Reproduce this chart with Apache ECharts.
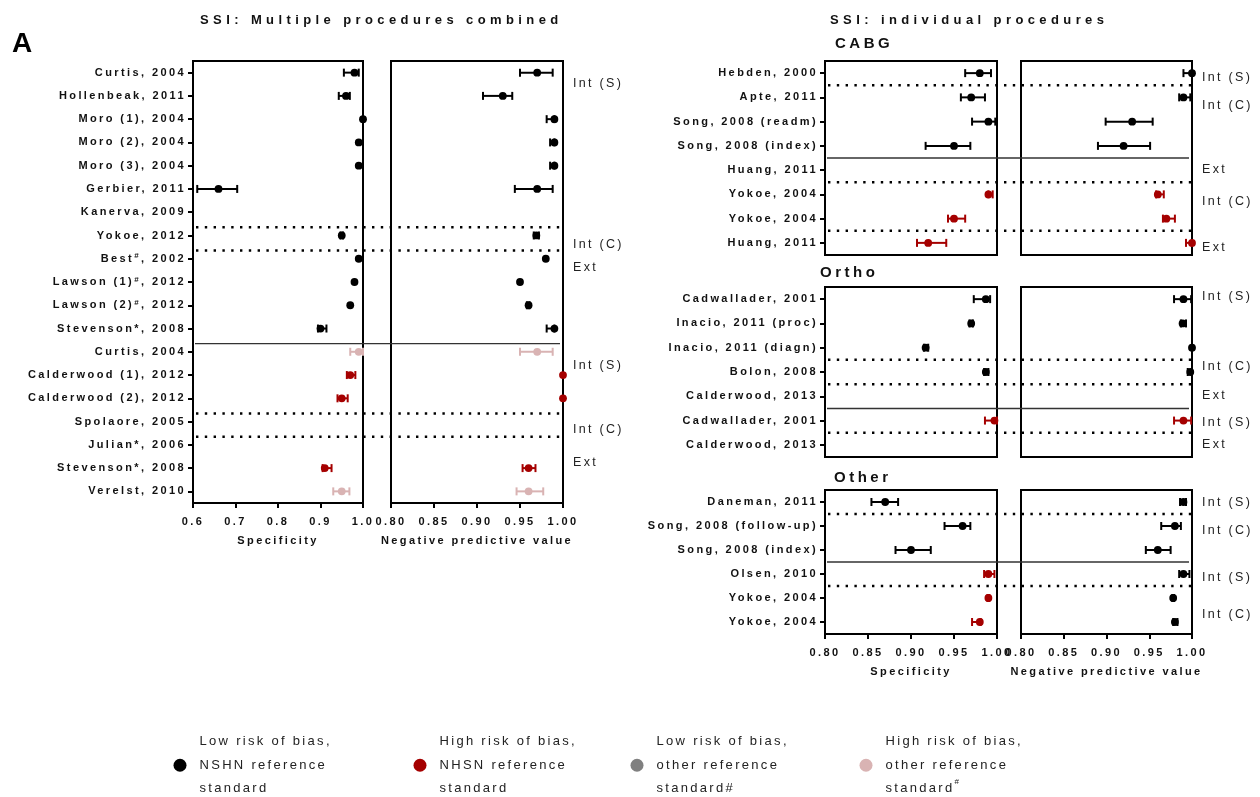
<!DOCTYPE html>
<html><head><meta charset="utf-8">
<script src="https://cdn.jsdelivr.net/npm/echarts@6/dist/echarts.min.js"></script>
<style>html,body{margin:0;padding:0;background:#fff}#c{width:1260px;height:797px}</style>
</head><body><div id="c"></div>
<script>
// ---------------- DATA ----------------
// risk codes: L = low risk / NHSN (black), H = high risk / NHSN (red), G = low risk / other (grey), P = high risk / other (pink)
const multiLabels = ['Curtis, 2004','Hollenbeak, 2011','Moro (1), 2004','Moro (2), 2004','Moro (3), 2004','Gerbier, 2011','Kanerva, 2009','Yokoe, 2012','Best#, 2002','Lawson (1)#, 2012','Lawson (2)#, 2012','Stevenson*, 2008','Curtis, 2004','Calderwood (1), 2012','Calderwood (2), 2012','Spolaore, 2005','Julian*, 2006','Stevenson*, 2008','Verelst, 2010'];
const multiRisk   = ['L','L','L','L','L','L','L','L','L','L','L','L','P','H','H','H','H','H','P'];
const multiSpec   = [0.98,0.96,1.00,0.99,0.99,0.66,null,0.95,0.99,0.98,0.97,0.90,0.99,0.97,0.95,null,null,0.91,0.95];
const multiSpecLo = [0.955,0.943,1.00,0.99,0.99,0.61,null,0.947,0.99,0.98,0.97,0.894,0.97,0.962,0.94,null,null,0.905,0.93];
const multiSpecHi = [0.99,0.969,1.00,0.99,0.99,0.704,null,0.953,0.99,0.98,0.97,0.914,1.00,0.982,0.964,null,null,0.926,0.968];
const multiNpv    = [0.97,0.93,0.99,0.99,0.99,0.97,null,0.969,0.98,0.95,0.96,0.99,0.97,1.00,1.00,null,null,0.96,0.96];
const multiNpvLo  = [0.95,0.907,0.981,0.985,0.985,0.944,null,0.966,0.98,0.95,0.958,0.981,0.95,1.00,1.00,null,null,0.953,0.946];
const multiNpvHi  = [0.988,0.941,0.99,0.99,0.99,0.988,null,0.972,0.98,0.95,0.961,0.99,0.988,1.00,1.00,null,null,0.968,0.977];
const multiGroups = [['Int (S)',0.45],['Int (C)',7.41],['Ext',8.4],['Int (S)',12.57],['Int (C)',15.36],['Ext',16.74]];
const multiDividers = [[6,'dot'],[7,'dot'],[11,'solid'],[14,'dot'],[15,'dot']];

const cabgLabels = ['Hebden, 2000','Apte, 2011','Song, 2008 (readm)','Song, 2008 (index)','Huang, 2011','Yokoe, 2004','Yokoe, 2004','Huang, 2011'];
const cabgRisk   = ['L','L','L','L','H','H','H','H'];
const cabgSpec   = [0.98,0.97,0.99,0.95,null,0.99,0.95,0.92];
const cabgSpecLo = [0.963,0.958,0.971,0.917,null,0.99,0.943,0.907];
const cabgSpecHi = [0.993,0.986,0.998,0.969,null,0.995,0.963,0.941];
const cabgNpv    = [1.00,0.99,0.93,0.92,null,0.96,0.97,1.00];
const cabgNpvLo  = [0.99,0.985,0.899,0.89,null,0.958,0.966,0.993];
const cabgNpvHi  = [1.00,0.998,0.954,0.951,null,0.967,0.98,1.00];
const cabgGroups = [['Int (S)',0.2],['Int (C)',1.35],['Ext',3.98],['Int (C)',5.3],['Ext',7.19]];
const cabgDividers = [[0,'dot'],[3,'solid'],[4,'dot'],[6,'dot']];

const orthoLabels = ['Cadwallader, 2001','Inacio, 2011 (proc)','Inacio, 2011 (diagn)','Bolon, 2008','Calderwood, 2013','Cadwallader, 2001','Calderwood, 2013'];
const orthoRisk   = ['L','L','L','L','L','H','H'];
const orthoSpec   = [0.987,0.97,0.917,0.987,null,0.997,null];
const orthoSpecLo = [0.973,0.968,0.915,0.985,null,0.986,null];
const orthoSpecHi = [0.992,0.972,0.92,0.99,null,1.00,null];
const orthoNpv    = [0.99,0.989,1.00,0.998,null,0.99,null];
const orthoNpvLo  = [0.979,0.987,1.00,0.995,null,0.979,null];
const orthoNpvHi  = [0.999,0.993,1.00,1.00,null,0.999,null];
const orthoGroups = [['Int (S)',-0.09],['Int (C)',2.79],['Ext',3.95],['Int (S)',5.1],['Ext',6.0]];
const orthoDividers = [[2,'dot'],[3,'dot'],[4,'solid'],[5,'dot']];

const otherLabels  = ['Daneman, 2011','Song, 2008 (follow-up)','Song, 2008 (index)','Olsen, 2010','Yokoe, 2004','Yokoe, 2004'];
const otherSpecRisk = ['L','L','L','H','H','H'];
const otherNpvRisk  = ['L','L','L','L','L','L'];
const otherSpec   = [0.87,0.96,0.90,0.99,0.99,0.98];
const otherSpecLo = [0.854,0.939,0.882,0.985,0.989,0.971];
const otherSpecHi = [0.885,0.969,0.923,0.997,0.991,0.981];
const otherNpv    = [0.99,0.98,0.96,0.99,0.978,0.98];
const otherNpvLo  = [0.986,0.964,0.946,0.985,0.977,0.978];
const otherNpvHi  = [0.993,0.987,0.975,0.997,0.979,0.983];
const otherGroups = [['Int (S)',0.04],['Int (C)',1.17],['Int (S)',3.13],['Int (C)',4.71]];
const otherDividers = [[0,'dot'],[2,'solid'],[3,'dot']];

const legendKeys  = ['L','H','G','P'];
const legendTexts = ['Low risk of bias,\nNSHN reference\nstandard','High risk of bias,\nNHSN reference\nstandard','Low risk of bias,\nother reference\nstandard#','High risk of bias,\nother reference\nstandard{sup|#}'];
const specTicks = {min:0.6, max:1.0, interval:0.1};
const npvTicks  = {min:0.8, max:1.0, interval:0.05};
const specTicks2 = {min:0.8, max:1.0, interval:0.05};

// ---------------- STYLE / LAYOUT ----------------
const FONT = '"Liberation Sans", Arial, sans-serif';
const COLORS = {L:'#000000', H:'#a50000', G:'#808080', P:'#d9b3b3'};
(function(){
  const P = CanvasRenderingContext2D.prototype;
  function sp(font){
    const m = /(\d+(?:\.\d+)?)px/.exec(font||''); const s = m ? parseFloat(m[1]) : 12;
    const b = /bold|[6-9]00/.test(font||'');
    if (s >= 20) return 0;
    if (b && s >= 14) return 3.5;
    if (b && s >= 12.5) return 4.4;
    if (b) return 2.4;
    return 2.3;
  }
  ['fillText','strokeText','measureText'].forEach(function(fn){
    const o = P[fn];
    P[fn] = function(){ try { this.letterSpacing = sp(this.font) + 'px'; } catch(e){} return o.apply(this, arguments); };
  });
})();

const panels = [
  {labels:multiLabels, spec:[multiSpec,multiSpecLo,multiSpecHi,multiRisk], npv:[multiNpv,multiNpvLo,multiNpvHi,multiRisk],
   groups:multiGroups, dividers:multiDividers, s:{left:193,top:61,width:170,height:442}, n:{left:391,top:61,width:172,height:442},
   sx:specTicks, sDec:1, axes:true, divOff:3.5},
  {labels:cabgLabels, spec:[cabgSpec,cabgSpecLo,cabgSpecHi,cabgRisk], npv:[cabgNpv,cabgNpvLo,cabgNpvHi,cabgRisk],
   groups:cabgGroups, dividers:cabgDividers, s:{left:825,top:61,width:172,height:194}, n:{left:1021,top:61,width:171,height:194},
   sx:specTicks2, sDec:2, axes:false, divOff:0},
  {labels:orthoLabels, spec:[orthoSpec,orthoSpecLo,orthoSpecHi,orthoRisk], npv:[orthoNpv,orthoNpvLo,orthoNpvHi,orthoRisk],
   groups:orthoGroups, dividers:orthoDividers, s:{left:825,top:287,width:172,height:170}, n:{left:1021,top:287,width:171,height:170},
   sx:specTicks2, sDec:2, axes:false, divOff:0},
  {labels:otherLabels, spec:[otherSpec,otherSpecLo,otherSpecHi,otherSpecRisk], npv:[otherNpv,otherNpvLo,otherNpvHi,otherNpvRisk],
   groups:otherGroups, dividers:otherDividers, s:{left:825,top:490,width:172,height:144}, n:{left:1021,top:490,width:171,height:144},
   sx:specTicks2, sDec:2, axes:true, divOff:0}
];

function renderCI(params, api){
  const row = api.value(1);
  const p = api.coord([api.value(0), row]);
  const a = api.coord([api.value(2), row]);
  const b = api.coord([api.value(3), row]);
  const color = api.visual('color');
  const cap = 4, y = p[1];
  const ls = {stroke:color, lineWidth:2};
  const ch = [];
  if (b[0] - a[0] > 0.5) {
    ch.push({type:'line', shape:{x1:a[0],y1:y,x2:b[0],y2:y}, style:ls});
    ch.push({type:'line', shape:{x1:a[0],y1:y-cap,x2:a[0],y2:y+cap}, style:ls});
    ch.push({type:'line', shape:{x1:b[0],y1:y-cap,x2:b[0],y2:y+cap}, style:ls});
  }
  ch.push({type:'circle', shape:{cx:p[0],cy:y,r:3.9}, style:{fill:color}});
  return {type:'group', children:ch};
}
function toData(arr){
  const [v, lo, hi, risk] = arr; const out = [];
  v.forEach(function(x,i){ if (x != null) out.push({value:[x,i,lo[i],hi[i]], itemStyle:{color:COLORS[risk[i]]}}); });
  return out;
}
const labelFont = {fontFamily:FONT, fontWeight:'bold', fontSize:11, color:'#111'};
function supFmt(v){ return v.indexOf('#') >= 0 ? v.replace('#','{sup|#}') : v; }

const grids = [], xAxes = [], yAxes = [], series = [], graphics = [];
panels.forEach(function(pn){
  [['s',pn.sx,pn.sDec,'Specificity',pn.spec],['n',npvTicks,2,'Negative predictive value',pn.npv]].forEach(function(d){
    const key = d[0], g = pn[key], gi = grids.length;
    grids.push({left:g.left, top:g.top, width:g.width, height:g.height, show:true, borderColor:'#000', borderWidth:2, containLabel:false});
    xAxes.push({type:'value', gridIndex:gi, min:d[1].min, max:d[1].max, interval:d[1].interval,
      axisLine:{show:true, onZero:false, lineStyle:{color:'#000', width:2}},
      axisTick:{show:pn.axes, length:5, lineStyle:{color:'#000', width:2}},
      axisLabel:Object.assign({show:pn.axes, margin:12, formatter:function(v){return v.toFixed(d[2]);}}, labelFont),
      splitLine:{show:false},
      name: pn.axes ? d[3] : '', nameLocation:'middle', nameGap:31,
      nameTextStyle:labelFont});
    const isS = key === 's';
    yAxes.push({type:'category', gridIndex:gi, data:pn.labels, inverse:true,
      axisLine:{show:true, lineStyle:{color:'#000', width:2}},
      axisTick:{show:isS, alignWithLabel:true, length:5, lineStyle:{color:'#000', width:2}},
      axisLabel:Object.assign({show:isS, margin:7, formatter:supFmt,
        rich:{sup:{fontFamily:FONT, fontWeight:'bold', fontSize:8, color:'#111', verticalAlign:'top', padding:[0,0,5,0]}}}, labelFont),
      splitLine:{show:false}});
    series.push({type:'custom', xAxisIndex:gi, yAxisIndex:gi, renderItem:renderCI, clip:false, z:5,
      encode:{x:[0,2,3], y:1}, data:toData(d[4])});
  });
  const rowH = pn.s.height / pn.labels.length;
  const xL = pn.s.left, xR = pn.n.left + pn.n.width;
  pn.dividers.forEach(function(dv){
    const y = pn.s.top + (dv[0] + 1) * rowH + pn.divOff;
    if (dv[1] === 'dot') {
      graphics.push({type:'line', z:10, shape:{x1:xL+3, y1:y, x2:xR-1, y2:y}, style:{stroke:'#000', lineWidth:2.5, lineDash:[2.4,6.4]}});
    } else {
      graphics.push({type:'line', z:10, shape:{x1:xL+2, y1:y, x2:xR-3, y2:y}, style:{stroke:'#333', lineWidth:1.4}});
    }
  });
  pn.groups.forEach(function(gr){
    graphics.push({type:'text', z:10, style:{text:gr[0], x:xR+10, y:pn.s.top + (gr[1]+0.5)*rowH,
      fontFamily:FONT, fontSize:12.5, fill:'#222', align:'left', verticalAlign:'middle'}});
  });
});

// titles
graphics.push({type:'text', style:{text:'A', x:12, y:44, fontFamily:FONT, fontWeight:'bold', fontSize:28, fill:'#000', verticalAlign:'middle'}});
graphics.push({type:'text', style:{text:'SSI: Multiple procedures combined', x:200, y:20, fontFamily:FONT, fontWeight:'bold', fontSize:13, fill:'#111', verticalAlign:'middle'}});
graphics.push({type:'text', style:{text:'SSI: individual procedures', x:830, y:20, fontFamily:FONT, fontWeight:'bold', fontSize:13, fill:'#111', verticalAlign:'middle'}});
[['CABG',835,44],['Ortho',820,273],['Other',834,478]].forEach(function(t){
  graphics.push({type:'text', style:{text:t[0], x:t[1], y:t[2], fontFamily:FONT, fontWeight:'bold', fontSize:15, fill:'#111', verticalAlign:'middle'}});
});

// legend dummy series
legendKeys.forEach(function(k){
  series.push({type:'scatter', name:k, xAxisIndex:0, yAxisIndex:0, data:[], itemStyle:{color:COLORS[k], opacity:1}});
});
const legendLeft = [173.5, 413.5, 630.5, 859.5];
const legends = legendKeys.map(function(k,i){
  return {data:[k], left:legendLeft[i], top:730, padding:0, icon:'circle', itemWidth:13, itemHeight:13, selectedMode:false,
    itemStyle:{opacity:1},
    formatter:function(){ return legendTexts[i]; },
    textStyle:{fontFamily:FONT, fontSize:13, color:'#222', lineHeight:23.5, padding:[0,0,0,8],
      rich:{sup:{fontFamily:FONT, fontSize:8, color:'#222', verticalAlign:'top', padding:[0,0,6,0]}}}};
});

const chart = echarts.init(document.getElementById('c'), null, {renderer:'canvas'});
chart.setOption({
  animation:false, backgroundColor:'#fff',
  grid:grids, xAxis:xAxes, yAxis:yAxes, series:series, legend:legends, graphic:graphics
});
</script></body></html>
